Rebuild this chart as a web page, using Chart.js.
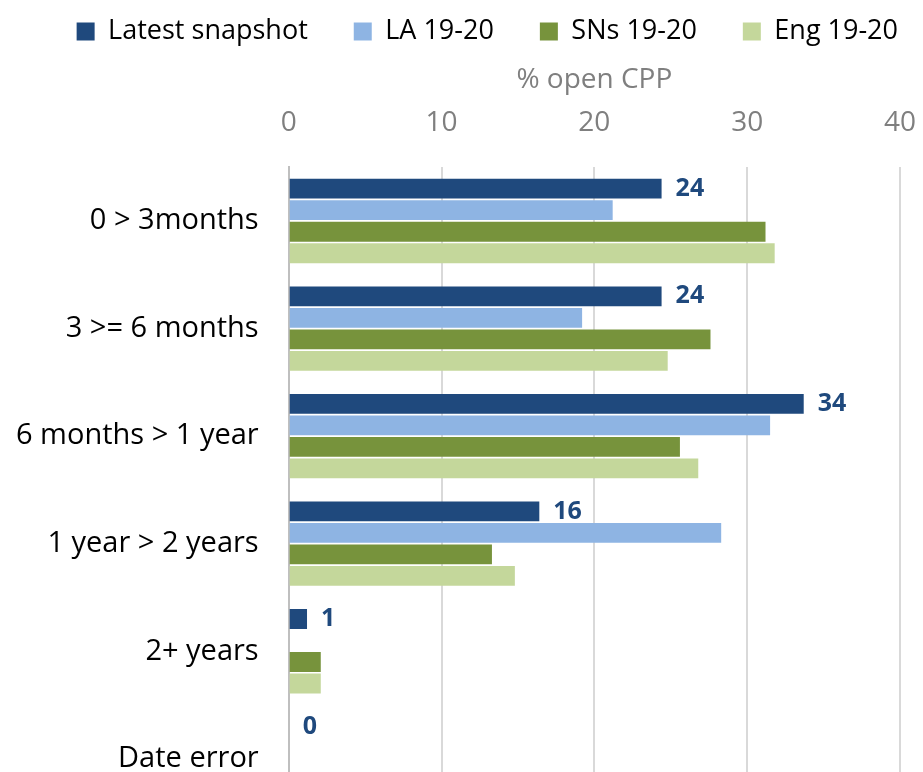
<!DOCTYPE html>
<html>
<head>
<meta charset="utf-8">
<script src="https://cdn.jsdelivr.net/npm/chart.js@4.4.0/dist/chart.umd.min.js"></script>
<style>
  html, body { margin: 0; padding: 0; background: #fff; overflow: hidden; }
  canvas { display: block; }
</style>
</head>
<body>
<canvas id="grafico" width="923" height="860"></canvas>
<script>
// dados
const categorias = ['0 > 3months', '3 >= 6 months', '6 months > 1 year', '1 year > 2 years', '2+ years', 'Date error'];
const latestSnapshot = [24.4, 24.4, 33.7, 16.4, 1.2, 0];
const la1920 = [21.2, 19.2, 31.5, 28.3, 0, 0];
const sns1920 = [31.2, 27.6, 25.6, 13.3, 2.1, 0];
const eng1920 = [31.8, 24.8, 26.8, 14.8, 2.1, 0];
const ticksX = [0, 10, 20, 30, 40];

const fonte = "'Open Sans', 'Noto Sans', sans-serif";

// rótulos de valor só na primeira série
const rotulosPlugin = {
    id: 'rotulos',
    afterDatasetsDraw(chart) {
        const ctx = chart.ctx;
        const meta = chart.getDatasetMeta(0);
        ctx.save();
        ctx.font = "bold 25px " + fonte;
        ctx.fillStyle = '#1F497D';
        ctx.textAlign = 'left';
        ctx.textBaseline = 'middle';
        meta.data.forEach((bar, i) => {
            const v = latestSnapshot[i];
            ctx.fillText(Math.round(v).toString(), bar.x + 14, bar.y);
        });
        ctx.restore();
    }
};

const ctx = document.getElementById('grafico').getContext('2d');
new Chart(ctx, {
    type: 'bar',
    data: {
        labels: categorias,
        datasets: [
            { label: 'Latest snapshot', data: latestSnapshot, backgroundColor: '#1F497D' },
            { label: 'LA 19-20', data: la1920, backgroundColor: '#8EB4E3' },
            { label: 'SNs 19-20', data: sns1920, backgroundColor: '#77933C' },
            { label: 'Eng 19-20', data: eng1920, backgroundColor: '#C4D79B' }
        ]
    },
    options: {
        indexAxis: 'y',
        responsive: false,
        animation: false,
        datasets: {
            bar: { categoryPercentage: 0.8, barPercentage: 0.92 }
        },
        layout: { padding: { left: -14, right: -21, top: -28, bottom: 0 } },
        plugins: {
            legend: {
                position: 'top',
                align: 'end',
                labels: {
                    boxWidth: 18,
                    boxHeight: 18,
                    padding: 46,
                    color: '#000',
                    font: { family: fonte, size: 27 }
                }
            },
            tooltip: { enabled: false }
        },
        scales: {
            x: {
                position: 'top',
                min: 0,
                max: 40,
                afterBuildTicks(axis) {
                    axis.ticks = ticksX.map(v => ({ value: v }));
                },
                // o "40" pode ficar parcialmente fora, como no original
                afterFit(axis) {
                    axis.paddingRight = 23;
                },
                grid: { color: '#D9D9D9', lineWidth: 2, drawTicks: false },
                border: { display: false },
                ticks: { color: '#7F7F7F', padding: 27, font: { family: fonte, size: 28 } },
                title: {
                    display: true,
                    text: '% open CPP',
                    color: '#7F7F7F',
                    padding: { top: 8, bottom: -17 },
                    font: { family: fonte, size: 28 }
                }
            },
            y: {
                grid: { display: false, drawTicks: false },
                border: { display: true, color: '#BFBFBF', width: 2 },
                ticks: { color: '#000', padding: 30, font: { family: fonte, size: 29 } }
            }
        }
    },
    plugins: [rotulosPlugin]
});
</script>
</body>
</html>
